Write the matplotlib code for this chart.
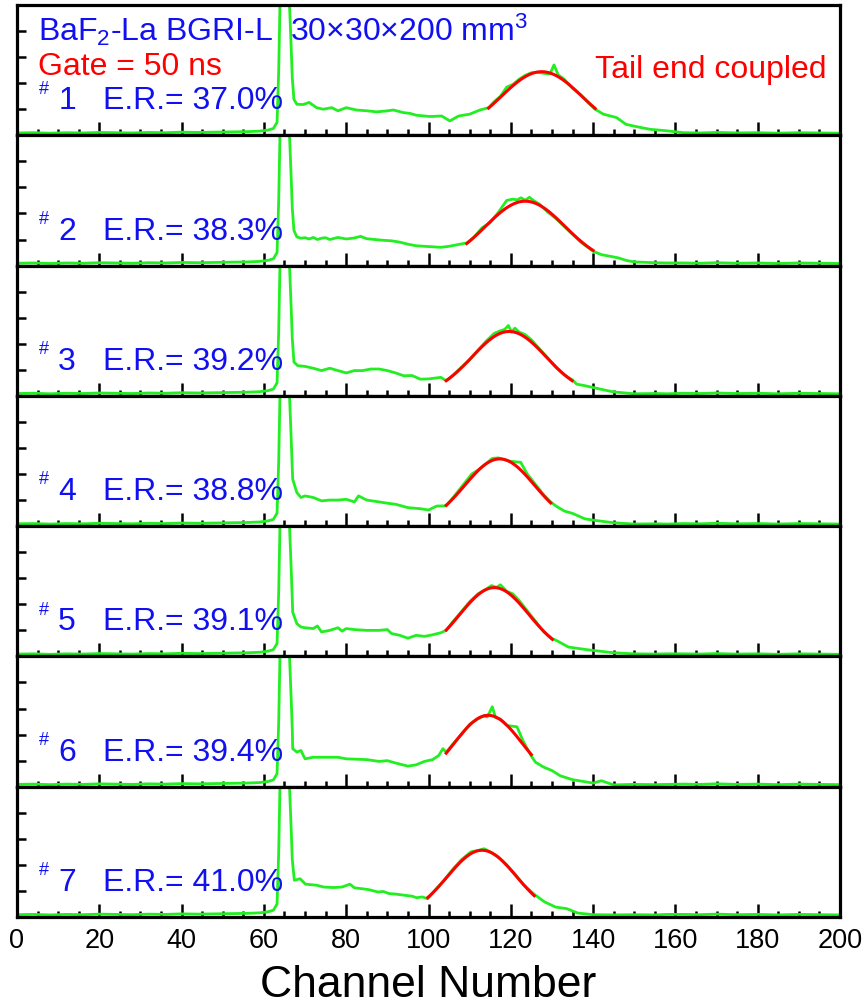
import numpy as np
import matplotlib.pyplot as plt
from matplotlib.ticker import MultipleLocator

plt.rcParams['font.family'] = ['Liberation Sans', 'DejaVu Sans']
plt.rcParams['mathtext.fontset'] = 'custom'
plt.rcParams['mathtext.rm'] = 'Liberation Sans'
plt.rcParams['mathtext.default'] = 'regular'

# --- dados (unidades arbitrarias, 0-5 por painel) ---
# parte comum: linha de base + pico de baixa energia
x_head = [0, 4, 8, 12, 16, 20, 24, 28, 32, 36, 40, 44, 48, 52, 56, 59, 61, 62.3,
          63.2, 63.6, 63.9, 64.6, 65.5, 66.2, 66.6, 66.9]
y_head = [0.09, 0.1, 0.08, 0.1, 0.09, 0.11, 0.1, 0.09, 0.11, 0.1, 0.12, 0.11, 0.12,
          0.13, 0.14, 0.16, 0.2, 0.26, 0.5, 2.5, 5.0, 5.6, 5.6, 5.1, 3.5, 2.2]
x_tail = [162, 166, 170, 175, 180, 185, 190, 195, 200]
y_tail = [0.1, 0.09, 0.11, 0.09, 0.1, 0.08, 0.1, 0.09, 0.08]

x_mid1 = [67.3, 68, 69.5, 71, 72.8, 74.4, 76.5, 78, 80, 82.5, 85, 87.4, 89.5, 91.5, 93.9,
          95.5, 97, 100.4, 103.2, 105.2, 107.3, 110, 112.5, 114.6, 116, 117.5, 119, 120.5,
          122, 123.5, 125, 126.5, 128, 129.5, 130.5, 131.5, 133, 135, 137, 139, 140.5,
          142.5, 145.7, 148, 150.6, 153.8, 158]
y_mid1 = [1.38, 1.19, 1.18, 1.26, 1.06, 1.0, 1.06, 0.94, 1.06, 0.97, 0.94, 0.9, 0.93, 0.97,
          0.87, 0.84, 0.77, 0.72, 0.74, 0.55, 0.74, 0.81, 0.97, 1.06, 1.3, 1.5, 1.85, 1.95,
          2.15, 2.3, 2.4, 2.42, 2.38, 2.35, 2.7, 2.32, 2.15, 1.8, 1.55, 1.22, 1.0, 0.81,
          0.68, 0.42, 0.33, 0.23, 0.17]

x_mid2 = [67.3, 68, 69, 70, 71, 72, 73, 74, 75, 76, 77, 78, 80, 82, 83.5, 85, 87, 89, 91,
          93, 95, 97, 99, 101, 103, 105, 107, 109.3, 111, 113, 115, 117, 119, 120.5, 121.5,
          122.5, 123.5, 124.5, 125.5, 127, 129, 131, 133, 135, 137, 140, 142, 144, 146,
          148, 150, 155, 158]
y_mid2 = [1.35, 1.1, 1.05, 1.07, 1.02, 1.08, 1.0, 1.05, 1.07, 1.0, 1.04, 1.08, 1.02, 1.06,
          1.12, 1.03, 1.0, 0.97, 0.95, 0.9, 0.82, 0.76, 0.74, 0.72, 0.7, 0.74, 0.8, 0.87,
          1.08, 1.45, 1.65, 2.05, 2.5, 2.55, 2.52, 2.6, 2.5, 2.62, 2.5, 2.35, 2.05, 1.8,
          1.5, 1.2, 0.9, 0.55, 0.42, 0.36, 0.3, 0.2, 0.14, 0.11, 0.1]

x_mid3 = [67.3, 68.2, 70, 72, 74, 76, 78, 80, 82, 84, 86, 88, 90, 92, 94, 96, 98, 100, 103,
          104.3, 106, 108, 110, 112, 114, 116, 117.5, 118.5, 119.4, 120.2, 121, 122, 123.5,
          125, 127, 129, 131, 133, 134.9, 136, 138, 140, 142, 145, 150, 155, 158]
y_mid3 = [1.3, 1.16, 1.13, 1.06, 0.97, 1.06, 0.97, 0.88, 0.97, 0.97, 1.03, 1.03, 0.97, 0.88,
          0.77, 0.78, 0.64, 0.65, 0.71, 0.58, 0.8, 1.1, 1.38, 1.75, 2.1, 2.4, 2.5, 2.55,
          2.7, 2.45, 2.6, 2.45, 2.35, 2.15, 1.8, 1.45, 1.08, 0.8, 0.62, 0.45, 0.39, 0.32,
          0.25, 0.15, 0.08, 0.09, 0.08]

x_mid4 = [67, 68, 69, 70, 72, 74, 76, 78, 80, 82, 83, 85, 88, 90, 92, 95, 98, 100, 102,
          104.3, 106, 108, 110.5, 112, 114, 115.5, 117, 118.5, 119.5, 120.5, 122.4, 124,
          126, 128, 129.7, 131, 133, 135, 138, 140, 145, 150, 155, 158]
y_mid4 = [1.8, 1.29, 1.1, 1.16, 1.1, 0.97, 1.0, 1.0, 1.03, 0.93, 1.16, 1.0, 0.93, 0.88,
          0.84, 0.71, 0.67, 0.62, 0.77, 0.78, 1.1, 1.5, 2.0, 2.15, 2.4, 2.6, 2.62, 2.55,
          2.5, 2.48, 2.45, 2.0, 1.6, 1.2, 0.93, 0.77, 0.58, 0.49, 0.28, 0.23, 0.13, 0.08,
          0.09, 0.08]

x_mid5 = [67, 68, 69, 70, 72, 73, 74, 76, 78, 79, 80, 82, 85, 88, 90, 91, 93, 95, 97, 99,
          101, 103, 104.3, 106, 108, 110, 112, 114, 115.3, 116.5, 117.5, 119, 120.5, 122,
          124, 126, 128, 130.1, 131, 134, 138, 140, 145, 150, 155, 158]
y_mid5 = [1.7, 1.26, 1.13, 1.1, 1.07, 1.17, 0.94, 1.0, 1.1, 0.97, 1.07, 1.03, 1.0, 1.0,
          1.03, 0.88, 0.81, 0.7, 0.81, 0.77, 0.83, 0.91, 1.0, 1.35, 1.72, 2.1, 2.4, 2.58,
          2.72, 2.65, 2.75, 2.5, 2.4, 2.15, 1.75, 1.35, 0.95, 0.68, 0.62, 0.36, 0.27, 0.23,
          0.14, 0.1, 0.09, 0.1]

x_mid6 = [67, 68, 69, 70, 72, 75, 78, 80, 85, 88, 90, 92, 95, 97, 99, 101, 102.5, 103.5,
          104.3, 106, 108, 110, 112, 113.5, 114.3, 115.5, 116.3, 117.5, 119, 121.5, 123,
          125, 126, 128, 130, 132, 135, 140, 142, 145, 150, 155, 158]
y_mid6 = [1.46, 1.33, 1.39, 1.07, 1.13, 1.13, 1.13, 1.07, 1.04, 0.97, 1.0, 0.91, 0.79, 0.84,
          0.97, 1.04, 1.2, 1.46, 1.33, 1.65, 2.0, 2.4, 2.6, 2.72, 2.68, 3.07, 2.65, 2.6,
          2.35, 2.3, 1.75, 1.17, 0.94, 0.75, 0.62, 0.42, 0.27, 0.14, 0.23, 0.07, 0.09,
          0.08, 0.09]

x_mid7 = [67.4, 68.8, 70.1, 72.8, 74.5, 76.9, 79, 80.9, 82, 83.6, 85.5, 87.7, 89, 90.4, 92,
          94.4, 96, 97.1, 98.5, 99.8, 102, 104, 106, 108, 110.3, 112, 113.5, 115, 117, 119,
          121, 123, 125.7, 128.2, 130.9, 133.6, 136.3, 140, 145, 150, 155, 158]
y_mid7 = [1.41, 1.47, 1.26, 1.22, 1.15, 1.13, 1.15, 1.26, 1.12, 1.09, 1.05, 0.96, 0.98, 0.9,
          0.88, 0.83, 0.8, 0.74, 0.77, 0.7, 1.1, 1.45, 1.85, 2.2, 2.5, 2.55, 2.62, 2.5,
          2.3, 2.0, 1.65, 1.25, 0.87, 0.58, 0.38, 0.32, 0.15, 0.09, 0.08, 0.09, 0.08, 0.1]

x_mids = [x_mid1, x_mid2, x_mid3, x_mid4, x_mid5, x_mid6, x_mid7]
y_mids = [y_mid1, y_mid2, y_mid3, y_mid4, y_mid5, y_mid6, y_mid7]

crystal_ids = ['1', '2', '3', '4', '5', '6', '7']
energy_res = ['37.0', '38.3', '39.2', '38.8', '39.1', '39.4', '41.0']

# parametros do ajuste gaussiano
fit_center = [127.5, 123.5, 119.6, 117.3, 116.0, 114.5, 113.0]
fit_sigma = [9.9, 9.7, 9.0, 8.5, 8.45, 8.3, 8.4]
fit_height = [2.44, 2.47, 2.47, 2.58, 2.64, 2.74, 2.56]
fit_start = [114.6, 109.3, 104.3, 104.3, 104.3, 104.3, 99.8]
fit_end = [140.5, 140.0, 134.9, 129.7, 130.1, 125.0, 125.7]

verde = '#22ee22'
azul = '#1010f0'
vermelho = '#ff0000'
fs = 23

fig = plt.figure(figsize=(8.68, 10.07), dpi=100)
W, H = 868.0, 1007.0
esq, dir_ = 17 / W, 840 / W
topo, base = 5.0, 917.0
altura = (base - topo) / 7

axes = []
for i in range(7):
    y0 = 1 - (topo + (i + 1) * altura) / H
    ax = fig.add_axes([esq, y0, dir_ - esq, altura / H])
    axes.append(ax)

    x = x_head + x_mids[i] + x_tail
    y = y_head + y_mids[i] + y_tail
    ax.plot(x, y, color=verde, lw=2.0)

    xf = np.linspace(fit_start[i], fit_end[i], 120)
    yf = fit_height[i] * np.exp(-(xf - fit_center[i]) ** 2 / (2 * fit_sigma[i] ** 2))
    ax.plot(xf, yf, color=vermelho, lw=2.2)

    ax.set_xlim(0, 200)
    ax.set_ylim(0, 5)
    ax.xaxis.set_major_locator(MultipleLocator(20))
    ax.xaxis.set_minor_locator(MultipleLocator(5))
    ax.set_yticks([1, 2, 3, 4])
    ax.tick_params(axis='x', which='major', direction='in', length=9.5, width=1.8,
                   top=False, labelbottom=(i == 6), labelsize=19.5, pad=8)
    ax.tick_params(axis='x', which='minor', direction='in', length=4.5, width=1.8, top=False)
    ax.tick_params(axis='y', which='major', direction='in', length=6.3, width=1.8,
                   labelleft=False, right=False)
    ax.yaxis.set_minor_locator(plt.NullLocator())
    for s in ax.spines.values():
        s.set_linewidth(2.3)

    ax.text(5.3, 1.6, '#', color=azul, fontsize=13)
    ax.text(10, 1.0, crystal_ids[i], color=azul, fontsize=fs)
    ax.text(20.8, 1.0, 'E.R.= ' + energy_res[i] + '%', color=azul, fontsize=fs)

ax1 = axes[0]
ax1.text(5.1, 3.63, 'BaF$_2$-La BGRI-L', color=azul, fontsize=fs)
ax1.text(66.3, 3.63, '30×30×200 mm$^3$', color=azul, fontsize=fs)
ax1.text(5.2, 2.3, 'Gate = 50 ns', color=vermelho, fontsize=fs)
ax1.text(196.8, 2.2, 'Tail end coupled', color=vermelho, fontsize=fs, ha='right')

fig.text(428.5 / W, 1 / H, 'Channel Number', fontsize=32, ha='center', va='bottom')

fig.savefig('out.png', dpi=100)
plt.close()
